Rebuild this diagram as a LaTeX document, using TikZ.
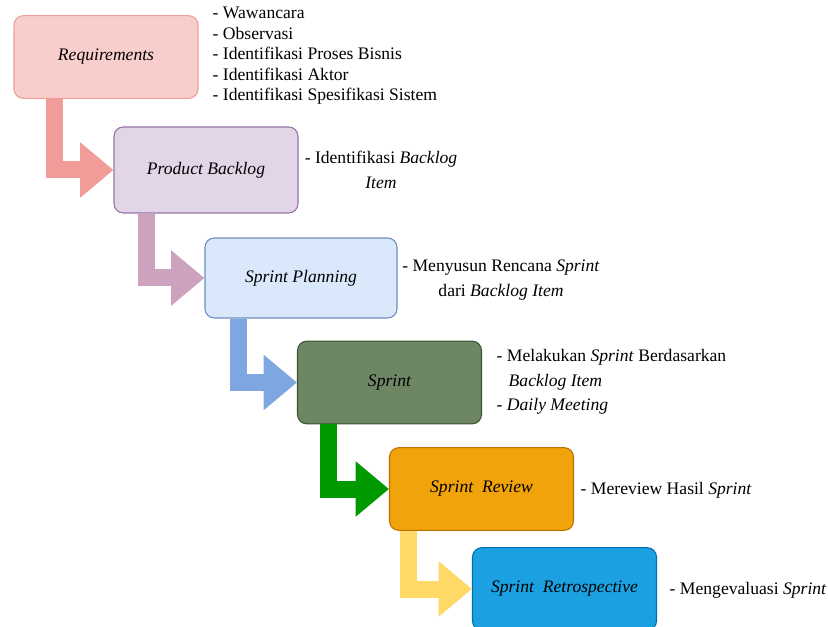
\documentclass[tikz,border=0pt]{standalone}
\usepackage{fontspec}
\setmainfont{Liberation Serif}
\usetikzlibrary{arrows.meta,calc}
\definecolor{reqfill}{HTML}{F8CECC}
\definecolor{reqline}{HTML}{F19C99}
\definecolor{pbfill}{HTML}{E1D5E7}
\definecolor{pbline}{HTML}{9673A6}
\definecolor{spfill}{HTML}{DAE8FC}
\definecolor{spline}{HTML}{6C8EBF}
\definecolor{srfill}{HTML}{6D8764}
\definecolor{srline}{HTML}{3A5431}
\definecolor{rvfill}{HTML}{F0A30A}
\definecolor{rvline}{HTML}{BD7000}
\definecolor{rtfill}{HTML}{1BA1E2}
\definecolor{rtline}{HTML}{006EAF}
\definecolor{arr1}{HTML}{F19C99}
\definecolor{arr2}{HTML}{CDA2BE}
\definecolor{arr3}{HTML}{7EA6E0}
\definecolor{arr4}{HTML}{009900}
\definecolor{arr5}{HTML}{FFD966}
\begin{document}
\begin{tikzpicture}[
  x=0.75pt,
  y=-0.75pt,
  phase/.style={rectangle, rounded corners=7pt, line width=0.8pt, minimum width=138pt, minimum height=62pt, inner sep=2pt, font=\fontsize{13.2}{15}\selectfont\itshape},
  flowarrow/.style={line width=12.75pt, -{Triangle[length=25pt, width=40pt]}},
  note/.style={font=\fontsize{13.2}{18.3}\selectfont, align=center},
  listnote/.style={font=\fontsize{13.2}{15.4}\selectfont, align=left, anchor=west},
  every node/.style={font=\fontsize{13.2}{15}\selectfont}
]
\useasboundingbox (0,0) rectangle (828,627);
\clip (0,0) rectangle (828,627);
\node[phase, fill=reqfill, draw=reqline] (req) at (106,57) {Requirements};
\node[phase, fill=pbfill, draw=pbline, minimum height=64.5pt] (pb) at (206,170) {Product Backlog};
\node[phase, fill=spfill, draw=spline, minimum width=144pt, minimum height=60pt] (sp) at (301,278) {Sprint Planning};
\node[phase, fill=srfill, draw=srline] (sprint) at (389.5,382.5) {Sprint};
\node[phase, fill=rvfill, draw=rvline] (review) at (481.5,489) {Sprint\ \ Review};
\node[phase, fill=rtfill, draw=rtline] (retro) at (564.5,589) {Sprint\ \ Retrospective};
\draw[flowarrow, arr1] ($(req.south west)+(41.5,0)$) |- (pb.west);
\draw[flowarrow, arr2] ($(pb.south west)+(33,0)$) |- (sp.west);
\draw[flowarrow, arr3] ($(sp.south west)+(34,0)$) |- (sprint.west);
\draw[flowarrow, arr4] ($(sprint.south west)+(32,0)$) |- (review.west);
\draw[flowarrow, arr5] ($(review.south west)+(19.5,0)$) |- (retro.west);
\node[listnote] (reqnote) at (208,56) {- Wawancara\\- Observasi\\- Identifikasi Proses Bisnis\\- Identifikasi Aktor\\- Identifikasi Spesifikasi Sistem};
\node[note] (pbnote) at (381,170) {- Identifikasi \textit{Backlog}\\\textit{Item}};
\node[note] (spnote) at (501,280) {- Menyusun Rencana \textit{Sprint}\\dari \textit{Backlog Item}};
\node[note, align=left, anchor=west] (srnote) at (492,382) {- Melakukan \textit{Sprint} Berdasarkan\\\hspace{9pt}\textit{Backlog Item}\\- \textit{Daily Meeting}};
\node[note, anchor=west] (rvnote) at (576,490) {- Mereview Hasil \textit{Sprint}};
\node[note, anchor=west] (rtnote) at (665,590) {- Mengevaluasi \textit{Sprint}};
\end{tikzpicture}
\end{document}
